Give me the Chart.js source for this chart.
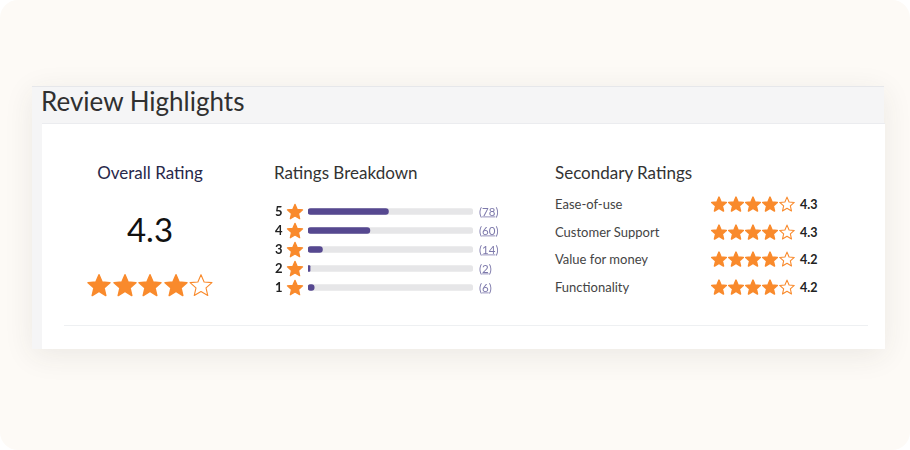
<!DOCTYPE html>
<html>
<head>
<meta charset="utf-8">
<script src="https://cdn.jsdelivr.net/npm/chart.js@4"></script>
<style>
  html, body { margin: 0; padding: 0; background: #fff; }
  body { width: 910px; height: 450px; position: relative; overflow: hidden; font-family: Lato, "Open Sans", sans-serif; }
  .bg { position: absolute; left: 0; top: 0; width: 910px; height: 450px; background: #fdfaf6; border-radius: 18px; }
  .panel { position: absolute; left: 32px; top: 86px; width: 852px; height: 262px; background: #f5f5f6;
           border-top: 1px solid #e6e7ea; box-shadow: 0 6px 28px rgba(60, 50, 40, 0.09); }
  .card { position: absolute; left: 42px; top: 123px; width: 843px; height: 225px; background: #fff;
          border-top: 1px solid #ebecef; }
  .divider { position: absolute; left: 64px; top: 325px; width: 804px; height: 1px; background: #eef0f2; }
  .title { position: absolute; left: 41px; top: 85px; font-size: 26px; line-height: 32px; color: #303030; }
  .head { position: absolute; font-size: 17px; line-height: 20px; color: #333; }
  .big { position: absolute; left: 100px; width: 100px; text-align: center; top: 210px; font-size: 33px; line-height: 38px; color: #111; }
  .stars { position: absolute; display: flex; }
  .sec-label { position: absolute; left: 555px; font-size: 13px; line-height: 16px; color: #444; }
  .sec-val { position: absolute; left: 800px; font-size: 12.5px; line-height: 16px; font-weight: bold; color: #222; }
  #wrap { position: absolute; left: 268px; top: 202px; width: 242px; height: 95px; }
</style>
</head>
<body>
<div class="bg"></div>
<div class="panel"></div>
<div class="card"></div>
<div class="divider"></div>
<div class="title">Review Highlights</div>

<div class="head" style="left:50px;width:200px;text-align:center;top:163px;color:#28284a">Overall Rating</div>
<div class="big" id="overall"></div>
<div class="stars" id="overallStars" style="left:87px;top:273px"></div>

<div class="head" style="left:274px;top:163px">Ratings Breakdown</div>
<div id="wrap"><canvas id="breakdown"></canvas></div>

<div class="head" style="left:555px;top:163px">Secondary Ratings</div>
<div id="secondary"></div>

<script>
// ---- data ----
const starLevels = ['5', '4', '3', '2', '1'];
const starCounts = [78, 60, 14, 2, 6];
const overallRating = 4.3;
const secondaryLabels = ['Ease-of-use', 'Customer Support', 'Value for money', 'Functionality'];
const secondaryScores = [4.3, 4.3, 4.2, 4.2];

const ORANGE = '#f98a2c';
const PURPLE = '#564890';
const totalReviews = starCounts.reduce((a, b) => a + b, 0);

// ---- star helpers ----
function starPoints(cx, cy, outer, inner) {
  const pts = [];
  for (let i = 0; i < 10; i++) {
    const r = i % 2 === 0 ? outer : inner;
    const a = -Math.PI / 2 + i * Math.PI / 5;
    pts.push([cx + r * Math.cos(a), cy + r * Math.sin(a)]);
  }
  return pts;
}

function starSvg(size, filled) {
  const c = size / 2;
  const pts = starPoints(c, c + size * 0.05, size * 0.48, size * 0.22).map(p => p.map(v => v.toFixed(2)).join(',')).join(' ');
  const fill = filled ? ORANGE : '#fff';
  const sw = filled ? 1.5 : 1.1;
  return `<svg width="${size}" height="${size}" viewBox="0 0 ${size} ${size}"><polygon points="${pts}" fill="${fill}" stroke="${ORANGE}" stroke-width="${sw}" stroke-linejoin="round"/></svg>`;
}

function starRow(rating, size, gap) {
  let html = '';
  for (let i = 1; i <= 5; i++) {
    html += `<span style="display:block;width:${size}px;height:${size}px;margin-right:${i < 5 ? gap : 0}px">${starSvg(size, i <= Math.floor(rating))}</span>`;
  }
  return html;
}

// ---- overall block ----
document.getElementById('overall').textContent = overallRating.toFixed(1);
document.getElementById('overallStars').innerHTML = starRow(overallRating, 24, 1.5);

// ---- secondary ratings ----
const secRowY = [205, 233, 260, 288];
let secHtml = '';
secondaryLabels.forEach((label, i) => {
  const y = secRowY[i];
  secHtml += `<div class="sec-label" style="top:${y - 9}px">${label}</div>`;
  secHtml += `<div class="stars" style="left:711px;top:${y - 9}px">${starRow(secondaryScores[i], 16, 1)}</div>`;
  secHtml += `<div class="sec-val" style="top:${y - 8}px">${secondaryScores[i].toFixed(1)}</div>`;
});
document.getElementById('secondary').innerHTML = secHtml;

// ---- breakdown labels plugin ----
const rowDecor = {
  id: 'rowDecor',
  afterDraw(chart) {
    const { ctx, scales } = chart;
    const left = chart.chartArea.left;
    const right = chart.chartArea.right;
    ctx.save();
    starLevels.forEach((lvl, i) => {
      const y = scales.y.getPixelForValue(i);
      // level digit
      ctx.font = 'bold 13px Lato, sans-serif';
      ctx.fillStyle = '#222';
      ctx.textBaseline = 'middle';
      ctx.textAlign = 'left';
      ctx.fillText(lvl, left - 33, y + 0.5);
      // star
      const pts = starPoints(left - 13, y + 0.8, 8, 3.7);
      ctx.beginPath();
      pts.forEach((p, k) => k ? ctx.lineTo(p[0], p[1]) : ctx.moveTo(p[0], p[1]));
      ctx.closePath();
      ctx.fillStyle = ORANGE;
      ctx.strokeStyle = ORANGE;
      ctx.lineJoin = 'round';
      ctx.lineWidth = 1.2;
      ctx.fill();
      ctx.stroke();
      // count link
      ctx.font = '11.5px Lato, sans-serif';
      ctx.fillStyle = '#7d79ab';
      const open = '(';
      const num = String(starCounts[i]);
      let x = right + 6;
      ctx.fillText(open, x, y + 0.5);
      x += ctx.measureText(open).width;
      ctx.fillText(num, x, y + 0.5);
      const w = ctx.measureText(num).width;
      ctx.fillRect(x, y + 5, w, 0.8);
      ctx.fillText(')', x + w, y + 0.5);
    });
    ctx.restore();
  }
};

new Chart(document.getElementById('breakdown'), {
  type: 'bar',
  data: {
    labels: starLevels,
    datasets: [
      {
        data: starCounts,
        backgroundColor: PURPLE,
        borderRadius: 4,
        borderSkipped: false,
        barThickness: 6,
        grouped: false
      },
      {
        data: starLevels.map(() => totalReviews),
        backgroundColor: '#e6e6e8',
        borderRadius: 4,
        borderSkipped: false,
        barThickness: 6,
        grouped: false
      }
    ]
  },
  options: {
    indexAxis: 'y',
    responsive: true,
    maintainAspectRatio: false,
    animation: false,
    layout: { padding: { left: 40, right: 37, top: 0, bottom: 0 } },
    plugins: { legend: { display: false }, tooltip: { enabled: false } },
    scales: {
      x: { display: false, min: 0, max: totalReviews },
      y: { display: false }
    }
  },
  plugins: [rowDecor]
});
</script>
</body>
</html>
